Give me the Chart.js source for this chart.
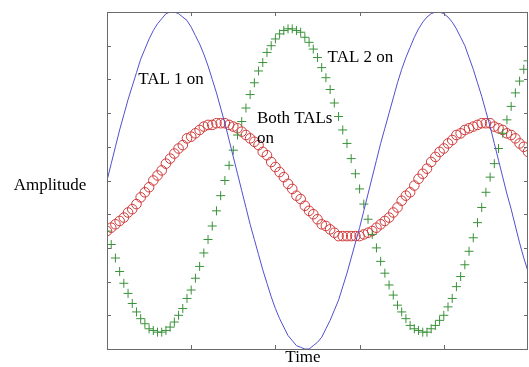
<!DOCTYPE html>
<html>
<head>
<meta charset="utf-8">
<script src="https://cdn.jsdelivr.net/npm/chart.js@4"></script>
<style>
  html, body { margin: 0; padding: 0; background: #fff; }
  #wrap { width: 529px; height: 367px; }
</style>
</head>
<body>
<div id="wrap"><canvas id="chart" width="529" height="367"></canvas></div>
<script>
// Time samples (0 .. 5, step 0.05)
const times = [];
for (let k = 0; k <= 100; k++) times.push(+(k * 0.05).toFixed(2));

// TAL 1 on (blue line)
const tal1 = [
  0, 0.10, 0.20, 0.30, 0.39, 0.48, 0.56, 0.64, 0.72, 0.78,
  0.84, 0.89, 0.93, 0.96, 0.99, 1.00, 1.00, 0.99, 0.97, 0.95,
  0.91, 0.86, 0.81, 0.75, 0.68, 0.60, 0.52, 0.43, 0.34, 0.24,
  0.14, 0.04, -0.06, -0.16, -0.26, -0.35, -0.44, -0.53, -0.61, -0.69,
  -0.76, -0.82, -0.87, -0.92, -0.95, -0.98, -0.99, -1.00, -1.00, -0.98,
  -0.96, -0.93, -0.88, -0.83, -0.77, -0.71, -0.63, -0.55, -0.46, -0.37,
  -0.28, -0.18, -0.08, 0.02, 0.12, 0.22, 0.31, 0.40, 0.49, 0.58,
  0.66, 0.73, 0.79, 0.85, 0.90, 0.94, 0.97, 0.99, 1.00, 1.00,
  0.99, 0.97, 0.94, 0.90, 0.85, 0.80, 0.73, 0.66, 0.58, 0.50,
  0.41, 0.32, 0.22, 0.12, 0.02, -0.08, -0.17, -0.27, -0.37, -0.46, -0.54
];

// TAL 2 on (green plus markers)
const tal2 = [
  -0.30, -0.38, -0.46, -0.54, -0.61, -0.67, -0.73, -0.78, -0.82, -0.85,
  -0.88, -0.89, -0.90, -0.90, -0.89, -0.87, -0.84, -0.80, -0.76, -0.70,
  -0.65, -0.58, -0.51, -0.43, -0.35, -0.27, -0.18, -0.09, 0, 0.09,
  0.18, 0.27, 0.35, 0.43, 0.51, 0.58, 0.65, 0.70, 0.76, 0.80,
  0.84, 0.87, 0.89, 0.90, 0.90, 0.89, 0.88, 0.85, 0.82, 0.78,
  0.73, 0.67, 0.61, 0.54, 0.46, 0.38, 0.30, 0.22, 0.13, 0.04,
  -0.05, -0.14, -0.23, -0.32, -0.40, -0.48, -0.55, -0.62, -0.68, -0.74,
  -0.78, -0.82, -0.86, -0.88, -0.89, -0.90, -0.90, -0.88, -0.86, -0.83,
  -0.80, -0.75, -0.70, -0.63, -0.57, -0.50, -0.42, -0.34, -0.25, -0.16,
  -0.07, 0.02, 0.10, 0.19, 0.28, 0.36, 0.44, 0.52, 0.59, 0.66, 0.71
];

// Both TALs on (red circle markers)
const both = [
  -0.30, -0.28, -0.26, -0.24, -0.22, -0.19, -0.17, -0.14, -0.10, -0.07,
  -0.04, 0.00, 0.03, 0.06, 0.10, 0.13, 0.16, 0.19, 0.21, 0.25,
  0.26, 0.28, 0.30, 0.32, 0.33, 0.33, 0.34, 0.34, 0.34, 0.33,
  0.32, 0.31, 0.29, 0.27, 0.25, 0.23, 0.21, 0.17, 0.15, 0.11,
  0.08, 0.05, 0.02, -0.02, -0.05, -0.09, -0.11, -0.15, -0.18, -0.20,
  -0.23, -0.26, -0.27, -0.29, -0.31, -0.33, -0.33, -0.33, -0.33, -0.33,
  -0.33, -0.32, -0.31, -0.30, -0.28, -0.26, -0.24, -0.22, -0.19, -0.16,
  -0.12, -0.09, -0.07, -0.03, 0.01, 0.04, 0.07, 0.11, 0.14, 0.17,
  0.19, 0.22, 0.24, 0.27, 0.28, 0.30, 0.31, 0.32, 0.33, 0.34,
  0.34, 0.34, 0.32, 0.31, 0.30, 0.28, 0.27, 0.25, 0.22, 0.20, 0.17
];

// Tick positions (marks only, no labels)
const xTicks = [1, 2, 3, 4];
const yTicks = [-0.8, -0.6, -0.4, -0.2, 0, 0.2, 0.4, 0.6, 0.8];

// In-plot labels, placed in data units
const notes = [
  { text: "TAL 1 on", t: 0.37, v: 0.60 },
  { text: "TAL 2 on", t: 2.62, v: 0.73 },
  { text: "Both TALs", t: 1.78, v: 0.37 },
  { text: "on", t: 1.78, v: 0.25 }
];

const FONT = '17px "Liberation Serif", "DejaVu Serif", serif';

// Frame, inward ticks and all text
const framePlugin = {
  id: 'frame',
  afterDraw(chart) {
    const { ctx, chartArea: a, scales } = chart;
    const xs = scales.x, ys = scales.y;
    ctx.save();
    ctx.strokeStyle = '#6a6a6a';
    ctx.lineWidth = 1;
    ctx.strokeRect(a.left + 0.5, a.top + 0.5, a.right - a.left - 1, a.bottom - a.top);
    ctx.beginPath();
    xTicks.forEach(t => {
      const px = Math.round(xs.getPixelForValue(t)) + 0.5;
      ctx.moveTo(px, a.bottom); ctx.lineTo(px, a.bottom - 4);
      ctx.moveTo(px, a.top); ctx.lineTo(px, a.top + 4);
    });
    yTicks.forEach(v => {
      const py = Math.round(ys.getPixelForValue(v)) + 0.5;
      ctx.moveTo(a.left, py); ctx.lineTo(a.left + 4, py);
      ctx.moveTo(a.right, py); ctx.lineTo(a.right - 4, py);
    });
    ctx.stroke();

    ctx.fillStyle = '#000';
    ctx.font = FONT;
    ctx.textBaseline = 'middle';
    ctx.textAlign = 'left';
    notes.forEach(n => {
      ctx.fillText(n.text, xs.getPixelForValue(n.t), ys.getPixelForValue(n.v));
    });
    ctx.textAlign = 'center';
    ctx.fillText('Amplitude', 50, 186);
    ctx.fillText('Time', 303, 358);
    ctx.restore();
  }
};

new Chart(document.getElementById('chart'), {
  type: 'line',
  data: {
    labels: times,
    datasets: [
      {
        label: 'TAL 1 on',
        data: tal1,
        borderColor: '#4f4fd0',
        borderWidth: 1,
        pointRadius: 0,
        tension: 0,
        fill: false
      },
      {
        label: 'TAL 2 on',
        data: tal2,
        showLine: false,
        pointStyle: 'cross',
        pointRadius: 4.5,
        pointBorderWidth: 1,
        pointBorderColor: '#3a923a',
        pointBackgroundColor: '#3a923a'
      },
      {
        label: 'Both TALs on',
        data: both,
        showLine: false,
        pointStyle: 'circle',
        pointRadius: 4.8,
        pointBorderWidth: 1,
        pointBorderColor: '#d03a3a',
        pointBackgroundColor: 'rgba(0,0,0,0)'
      }
    ]
  },
  options: {
    responsive: false,
    animation: false,
    layout: { autoPadding: false, padding: { left: 107, right: 1, top: 12, bottom: 18 } },
    plugins: { legend: { display: false }, tooltip: { enabled: false } },
    scales: {
      x: { type: 'linear', min: 0, max: 5, display: false },
      y: { min: -1, max: 1, display: false }
    }
  },
  plugins: [framePlugin]
});
</script>
</body>
</html>
